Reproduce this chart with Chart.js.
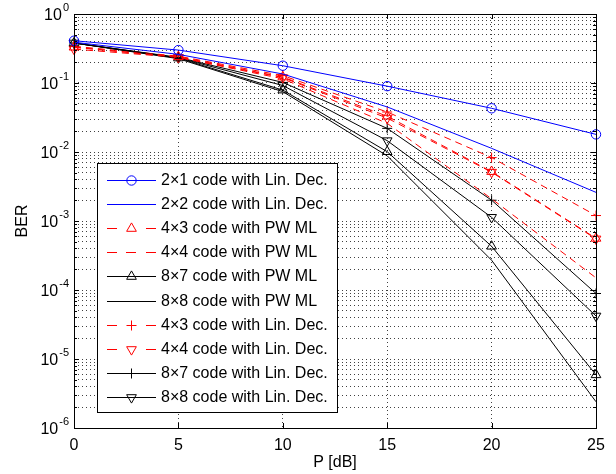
<!DOCTYPE html>
<html lang="en">
<head>
<meta charset="UTF-8">
<title>BER vs P</title>
<script src="https://cdn.jsdelivr.net/npm/chart.js"></script>
<style>
  html, body { margin: 0; padding: 0; background: #fff; }
  #wrap { width: 616px; height: 474px; }
</style>
</head>
<body>
<div id="wrap"><canvas id="ber" width="616" height="474"></canvas></div>
<script>
// P [dB] values
const snr = [0, 5, 10, 15, 20, 25];

// BER curves
const ber2x1Lin   = [0.41, 0.30, 0.178, 0.090, 0.043, 0.018];
const ber2x2Lin   = [0.39, 0.26, 0.135, 0.045, 0.0113, 0.0026];
const ber4x3PwMl  = [0.33, 0.24, 0.122, 0.033, 0.0052, 0.00056];
const ber4x4PwMl  = [0.33, 0.235, 0.115, 0.026, 0.0021, 0.00015];
const ber8x7PwMl  = [0.38, 0.23, 0.079, 0.0101, 0.00043, 0.0000059];
const ber8x8PwMl  = [0.38, 0.225, 0.075, 0.0088, 0.00027, 0.0000024];
const ber4x3Lin   = [0.34, 0.245, 0.128, 0.038, 0.0083, 0.0012];
const ber4x4Lin   = [0.31, 0.235, 0.12, 0.031, 0.0051, 0.00055];
const ber8x7Lin   = [0.38, 0.235, 0.102, 0.022, 0.0020, 0.000089];
const ber8x8Lin   = [0.38, 0.232, 0.092, 0.0146, 0.00113, 0.000042];

const seriesLabels = [
  '2×1 code with Lin. Dec.', '2×2 code with Lin. Dec.',
  '4×3 code with PW ML', '4×4 code with PW ML',
  '8×7 code with PW ML', '8×8 code with PW ML',
  '4×3 code with Lin. Dec.', '4×4 code with Lin. Dec.',
  '8×7 code with Lin. Dec.', '8×8 code with Lin. Dec.'
];

const xTicks = [0, 5, 10, 15, 20, 25];
const yExponents = [-6, -5, -4, -3, -2, -1, 0];

const FONT = '"Liberation Sans", Arial, Helvetica, sans-serif';
const BLUE = '#0000ff', RED = '#ff0000', BLACK = '#000000';
const DASH = [7, 5];

function series(label, data, color, dashed, marker) {
  const ds = {
    label, data,
    borderColor: color,
    borderWidth: 1,
    borderDash: dashed ? DASH : [],
    tension: 0,
    fill: false,
    clip: false,
    pointRadius: 0,
    pointBorderColor: color,
    pointBackgroundColor: 'rgba(0,0,0,0)',
    pointBorderWidth: 1,
    marker: marker || null
  };
  if (marker === 'circle') { ds.pointStyle = 'circle'; ds.pointRadius = 4.7; }
  if (marker === 'up') { ds.pointStyle = 'triangle'; ds.pointRadius = 5.6; }
  if (marker === 'down') { ds.pointStyle = 'triangle'; ds.pointRadius = 5.6; ds.pointRotation = 180; }
  if (marker === 'plus') { ds.pointStyle = 'cross'; ds.pointRadius = 5; }
  return ds;
}

const datasets = [
  series(seriesLabels[0], ber2x1Lin, BLUE, false, 'circle'),
  series(seriesLabels[1], ber2x2Lin, BLUE, false, null),
  series(seriesLabels[2], ber4x3PwMl, RED, true, 'up'),
  series(seriesLabels[3], ber4x4PwMl, RED, true, null),
  series(seriesLabels[4], ber8x7PwMl, BLACK, false, 'up'),
  series(seriesLabels[5], ber8x8PwMl, BLACK, false, null),
  series(seriesLabels[6], ber4x3Lin, RED, true, 'plus'),
  series(seriesLabels[7], ber4x4Lin, RED, true, 'down'),
  series(seriesLabels[8], ber8x7Lin, BLACK, false, 'plus'),
  series(seriesLabels[9], ber8x8Lin, BLACK, false, 'down')
];

// minor + major log ticks
const yTickValues = [];
yExponents.forEach(e => {
  if (e === 0) { yTickValues.push(1); return; }
  for (let m = 1; m <= 9; m++) yTickValues.push(Number((m * Math.pow(10, e)).toPrecision(3)));
});

function isDecade(v) {
  const l = Math.log10(v);
  return Math.abs(l - Math.round(l)) < 1e-6;
}

function drawMarker(ctx, type, x, y, color) {
  ctx.save();
  ctx.strokeStyle = color;
  ctx.lineWidth = 1;
  ctx.setLineDash([]);
  ctx.beginPath();
  if (type === 'circle') {
    ctx.arc(x, y, 4.7, 0, Math.PI * 2);
  } else if (type === 'up' || type === 'down') {
    const r = 5.6, s = type === 'up' ? 1 : -1;
    ctx.moveTo(x, y - s * r);
    ctx.lineTo(x + 0.866 * r, y + s * 0.5 * r);
    ctx.lineTo(x - 0.866 * r, y + s * 0.5 * r);
    ctx.closePath();
  } else if (type === 'plus') {
    ctx.moveTo(x - 5, y); ctx.lineTo(x + 5, y);
    ctx.moveTo(x, y - 5); ctx.lineTo(x, y + 5);
  }
  ctx.stroke();
  ctx.restore();
}

const matlabAxes = {
  id: 'matlabAxes',
  afterDatasetsDraw(chart) {
    const { ctx, chartArea: a, scales: { x, y } } = chart;
    ctx.save();
    ctx.strokeStyle = '#000';
    ctx.lineWidth = 1;
    ctx.setLineDash([]);
    // ticks (inward)
    ctx.beginPath();
    yTickValues.forEach(v => {
      const py = Math.round(y.getPixelForValue(v)) + 0.5;
      const len = isDecade(v) ? 5 : 3;
      ctx.moveTo(a.left, py); ctx.lineTo(a.left + len, py);
      ctx.moveTo(a.right, py); ctx.lineTo(a.right - len, py);
    });
    xTicks.forEach(v => {
      const px = Math.round(x.getPixelForValue(v)) + 0.5;
      ctx.moveTo(px, a.bottom); ctx.lineTo(px, a.bottom - 5);
      ctx.moveTo(px, a.top); ctx.lineTo(px, a.top + 5);
    });
    ctx.stroke();
    // frame
    ctx.strokeRect(Math.round(a.left) + 0.5, Math.round(a.top) + 0.5,
      Math.round(a.right - a.left), Math.round(a.bottom - a.top));
    ctx.restore();
  },
  afterDraw(chart) {
    const { ctx, chartArea: a, scales: { x, y } } = chart;
    ctx.save();
    ctx.fillStyle = '#000';
    // y labels 10^k
    yExponents.forEach(e => {
      const py = y.getPixelForValue(Math.pow(10, e));
      const expTxt = e === 0 ? '0' : '-' + Math.abs(e);
      ctx.font = '11px ' + FONT;
      const ew = ctx.measureText(expTxt).width;
      ctx.textAlign = 'left';
      ctx.textBaseline = 'alphabetic';
      const ex = a.left - 5 - ew;
      ctx.fillText(expTxt, ex, py - 3);
      ctx.font = '16px ' + FONT;
      ctx.textAlign = 'right';
      ctx.fillText('10', ex - 1, py + 6);
    });
    // x labels
    ctx.font = '16px ' + FONT;
    ctx.textAlign = 'center';
    ctx.textBaseline = 'alphabetic';
    xTicks.forEach(v => ctx.fillText(String(v), x.getPixelForValue(v), 450));
    // axis titles
    ctx.textBaseline = 'middle';
    ctx.fillText('P [dB]', (a.left + a.right) / 2, 463);
    ctx.save();
    ctx.translate(23, (a.top + a.bottom) / 2);
    ctx.rotate(-Math.PI / 2);
    ctx.fillText('BER', 0, 0);
    ctx.restore();

    // legend box
    const bx = 97, by = 163, bw = 240, bh = 249;
    ctx.fillStyle = '#fff';
    ctx.fillRect(bx, by, bw, bh);
    ctx.strokeStyle = '#000';
    ctx.lineWidth = 1;
    ctx.strokeRect(bx + 0.5, by + 0.5, bw, bh);
    chart.data.datasets.forEach((ds, i) => {
      const ry = Math.round(180 + i * 24.1) + 0.5;
      const x0 = 107, x1 = 156, xm = 131.5;
      ctx.save();
      ctx.strokeStyle = ds.borderColor;
      ctx.lineWidth = 1;
      ctx.beginPath();
      if (ds.borderDash.length) {
        if (ds.marker) {
          ctx.moveTo(x0, ry); ctx.lineTo(x0 + 10, ry);
          ctx.moveTo(x1 - 10, ry); ctx.lineTo(x1, ry);
        } else {
          ctx.moveTo(x0, ry); ctx.lineTo(x0 + 10, ry);
          ctx.moveTo(x0 + 19, ry); ctx.lineTo(x0 + 29, ry);
          ctx.moveTo(x1 - 10, ry); ctx.lineTo(x1, ry);
        }
      } else {
        ctx.moveTo(x0, ry); ctx.lineTo(x1, ry);
      }
      ctx.stroke();
      ctx.restore();
      if (ds.marker) drawMarker(ctx, ds.marker, xm, ry, ds.borderColor);
      ctx.fillStyle = '#000';
      ctx.font = '16px ' + FONT;
      ctx.textAlign = 'left';
      ctx.textBaseline = 'middle';
      ctx.fillText(ds.label, 161, ry);
    });
    ctx.restore();
  }
};

new Chart(document.getElementById('ber'), {
  type: 'line',
  data: { datasets: datasets.map(d => ({ ...d, data: d.data.map((v, i) => ({ x: snr[i], y: v })) })) },
  options: {
    responsive: false,
    animation: false,
    devicePixelRatio: 1,
    layout: { padding: { top: 14, right: 20, left: 0, bottom: 0 } },
    plugins: { legend: { display: false }, tooltip: { enabled: false } },
    scales: {
      x: {
        type: 'linear', min: 0, max: 25,
        afterBuildTicks: s => { s.ticks = xTicks.map(v => ({ value: v })); },
        afterFit: s => { s.height = 46; },
        ticks: { display: false },
        grid: { color: 'rgba(0,0,0,0.75)', lineWidth: 1, drawTicks: false },
        border: { display: false, dash: [1, 3] }
      },
      y: {
        type: 'logarithmic', min: 1e-6, max: 1,
        afterBuildTicks: s => { s.ticks = yTickValues.map(v => ({ value: v })); },
        afterFit: s => { s.width = 74; },
        ticks: { display: false },
        grid: { color: 'rgba(0,0,0,0.75)', lineWidth: 1, drawTicks: false },
        border: { display: false, dash: [1, 3] }
      }
    }
  },
  plugins: [matlabAxes]
});
</script>
</body>
</html>
